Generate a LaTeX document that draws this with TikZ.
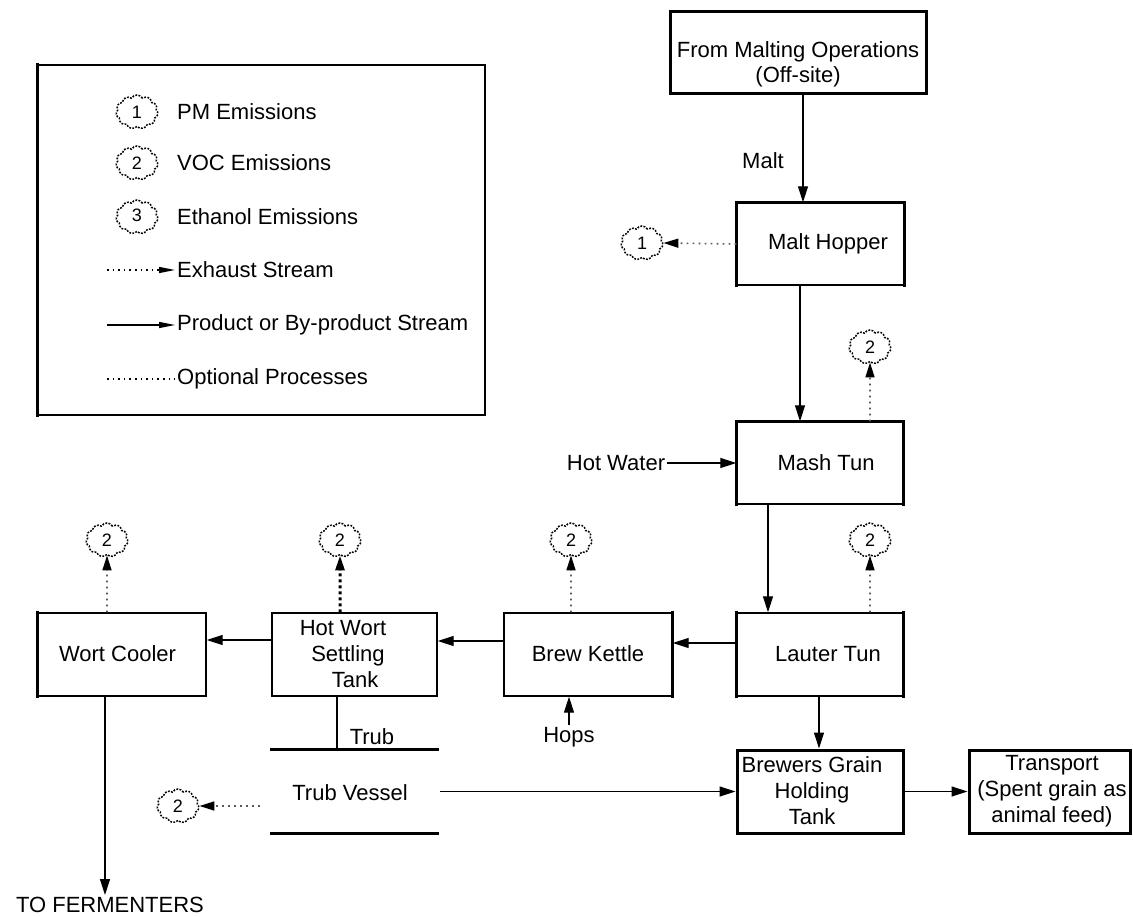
\documentclass[tikz,border=0pt]{standalone}
\usepackage{fontspec}
\setmainfont{Liberation Sans}
\usetikzlibrary{arrows.meta,shapes.symbols}
\begin{document}
\begin{tikzpicture}[x=1pt,y=-1pt,
  every node/.style={font=\fontsize{22}{26}\selectfont},
  box/.style={draw,line width=1.4pt,inner sep=0pt},
  heavybox/.style={draw,line width=3pt,inner sep=0pt},
  thk/.style={line width=3.2pt,line cap=rect},
  lbl/.style={inner sep=2pt,align=center},
  prod/.style={line width=1.2pt,-{Triangle[length=16pt,width=10pt]}},
  plainline/.style={line width=1.2pt},
  exh/.style={draw=black!65,line width=1.6pt,dash pattern=on 1.6pt off 4.4pt,-{Triangle[length=15pt,width=9pt,color=black]}},
  exhheavy/.style={draw=black,line width=3pt,dash pattern=on 3pt off 3pt,-{Triangle[length=15pt,width=9pt,color=black]}},
  legexh/.style={draw=black,line width=1.4pt,dash pattern=on 1.6pt off 4pt,-{Triangle[length=16pt,width=6pt]}},
  legprod/.style={line width=1.2pt,-{Triangle[length=16pt,width=6pt]}},
  legopt/.style={draw=black,line width=1.4pt,dash pattern=on 1.6pt off 4pt},
  emis/.style={cloud,cloud puffs=11,cloud puff arc=120,aspect=1.25,draw,line width=1.5pt,
    dash pattern=on 1.8pt off 1.4pt,minimum width=42pt,minimum height=34pt,inner sep=0pt,
    font=\fontsize{18}{20}\selectfont},
]
\useasboundingbox (0,0) rectangle (1133,917);

% ---------- legend ----------
\node[box,minimum width=447pt,minimum height=350pt] (leg) at (261.5,240) {};
\draw[thk] (leg.north west) -- (leg.south west);
\node[emis] (l1) at (137,112) {\raisebox{-3pt}{1}};
\node[lbl,anchor=west] (l1t) at (175,112) {PM Emissions};
\node[emis] (l2) at (137,163) {2};
\node[lbl,anchor=west] (l2t) at (175,163) {VOC Emissions};
\node[emis] (l3) at (137,217) {\raisebox{4pt}{3}};
\node[lbl,anchor=west] (l3t) at (175,217) {Ethanol Emissions};
\coordinate (l4s) at (107,270);
\node[lbl,anchor=west] (l4t) at (175,270) {Exhaust Stream};
\draw[legexh] (l4s) -- (l4t.west);
\coordinate (l5s) at (107,325);
\node[lbl,anchor=west] (l5t) at (175,325) {Product or By-product Stream};
\draw[legprod] (l5s) -- (l5t.west);
\coordinate (l6s) at (107,379);
\node[lbl,anchor=west] (l6t) at (175,379) {Optional Processes};
\draw[legopt] (l6s) -- (l6t.west);

% ---------- boxes ----------
\node[heavybox,minimum width=256pt,minimum height=82pt] (fm) at (798,53) {};
\node[lbl,font=\fontsize{22}{25}\selectfont] (fmt) at (798,64.5) {From Malting Operations\\(Off-site)};

\node[box,minimum width=167pt,minimum height=82pt] (mh) at (820.5,244) {};
\draw[thk] (mh.south west) -- (mh.north west) -- (mh.north east) -- (mh.south east);
\node[lbl] (mht) at (828,244) {Malt Hopper};

\node[box,minimum width=166pt,minimum height=82pt] (mt) at (820,463) {};
\draw[thk] (mt.south west) -- (mt.north west) -- (mt.north east) -- (mt.south east);
\node[lbl] (mtt) at (826,463) {Mash Tun};

\node[box,minimum width=166pt,minimum height=83pt] (lt) at (820,654.5) {};
\draw[thk] (lt.north west) -- (lt.south west);
\draw[thk] (lt.north east) -- (lt.south east);
\node[lbl] (ltt) at (828,654) {Lauter Tun};

\node[box,minimum width=168pt,minimum height=83pt] (bk) at (588,654.5) {};
\draw[thk] (bk.north east) -- (bk.south east);
\node[lbl] (bkt) at (588,654) {Brew Kettle};

\node[box,minimum width=165pt,minimum height=83pt] (hw) at (354.5,654.5) {};
\node[lbl] (hwt) at (343,654) {Hot Wort\\\hspace{10pt}Settling\\\hspace{24pt}Tank};

\node[box,minimum width=168pt,minimum height=83pt] (wc) at (122,654.5) {};
\draw[thk] (wc.north west) -- (wc.south west);
\node[lbl] (wct) at (117.5,654) {Wort Cooler};

\node[inner sep=0pt,minimum width=165pt,minimum height=83pt] (tv) at (354.5,791.5) {};
\draw[thk] (tv.north west) -- (tv.north east);
\draw[thk] (tv.south west) -- (tv.south east);
\node[lbl] (tvt) at (350,793) {Trub Vessel};

\node[heavybox,minimum width=166pt,minimum height=83pt] (bg) at (820,791.5) {};
\node[lbl] (bgt) at (812,791) {Brewers Grain\\Holding\\Tank};

\node[heavybox,minimum width=161pt,minimum height=83pt] (tr) at (1049.5,791.5) {};
\node[lbl] (trt) at (1052,791) {Transport\\(Spent grain as\\animal feed)};

% ---------- free labels ----------
\node[lbl] (malt) at (763,161) {Malt};
\node[lbl] (hotw) at (616,463) {Hot Water};
\node[lbl] (hops) at (569,737) {Hops};
\node[lbl] (trub) at (372,737) {Trub};
\node[lbl] (tofer) at (110,905) {TO FERMENTERS};

% ---------- emission clouds ----------
\node[emis] (c1) at (642,243) {1};
\node[emis] (cm) at (870,347) {2};
\node[emis] (cl) at (870,540) {2};
\node[emis] (cb) at (571,540) {2};
\node[emis] (ch) at (340,540) {2};
\node[emis] (cw) at (107,540) {2};
\node[emis] (ct) at (178,806) {2};

% ---------- connectors ----------
\draw[prod] ([xshift=5pt]fm.south) -- ([xshift=-17.5pt]mh.north);
\draw[exh] (mh.west) -- (c1.east);
\draw[prod] ([xshift=-20.5pt]mh.south) -- ([xshift=-20pt]mt.north);
\draw[exh] ([xshift=50pt]mt.north) -- (cm.south);
\draw[prod] (hotw.east) -- (mt.west);
\draw[prod] ([xshift=-52pt]mt.south) -- ([xshift=-52pt]lt.north);
\draw[exh] ([xshift=50pt]lt.north) -- (cl.south);
\draw[prod] ([yshift=11.5pt]lt.west) -- ([yshift=11.5pt]bk.east);
\draw[exh] ([xshift=-17pt]bk.north) -- (cb.south);
\draw[prod] (hops.north) -- (hops.north |- bk.south);
\draw[prod] ([yshift=13.5pt]bk.west) -- ([yshift=13.5pt]hw.east);
\draw[exhheavy] ([xshift=-14.5pt]hw.north) -- (ch.south);
\draw[prod] ([yshift=14.5pt]hw.west) -- ([yshift=14.5pt]wc.east);
\draw[exh] ([xshift=-15pt]wc.north) -- (cw.south);
\draw[prod] ([xshift=-17pt]wc.south) -- ([xshift=-17pt]wc.south |- tofer.north);
\draw[plainline] ([xshift=-17.5pt]hw.south) -- ([xshift=-17.5pt]tv.north);
\draw[exh] ([xshift=-12pt,yshift=-14.5pt]tv.west) -- (ct.east);
\draw[prod] ([xshift=3pt]tv.east) -- (bg.west);
\draw[prod] ([xshift=-1pt]lt.south) -- ([xshift=-1pt]bg.north);
\draw[prod] (bg.east) -- (tr.west);
\end{tikzpicture}
\end{document}
